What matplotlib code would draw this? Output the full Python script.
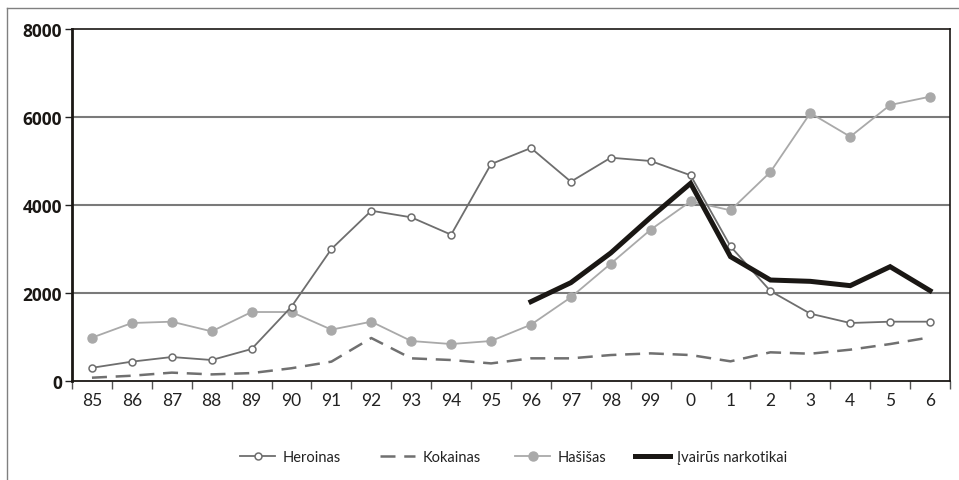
import matplotlib
matplotlib.use("Agg")
import matplotlib.pyplot as plt
from matplotlib.lines import Line2D
import numpy as np

plt.rcParams['font.family'] = ['Lato', 'DejaVu Sans']

# ---- data ----
YEARS = ['85', '86', '87', '88', '89', '90', '91', '92', '93', '94', '95',
         '96', '97', '98', '99', '0', '1', '2', '3', '4', '5', '6']
HEROINAS = [300, 440, 545, 477, 727, 1690, 3000, 3870, 3720, 3325, 4930,
            5295, 4530, 5075, 5000, 4675, 3060, 2045, 1530, 1318, 1348, 1348]
KOKAINAS = [75, 120, 190, 150, 180, 290, 440, 977, 515, 477, 400,
            515, 515, 590, 628, 590, 447, 652, 620, 712, 840, 992]
HASISAS = [985, 1318, 1348, 1128, 1568, 1568, 1167, 1348, 909, 840, 909,
           1280, 1902, 2667, 3440, 4083, 3879, 4750, 6090, 5553, 6273, 6462]
IVAIRUS_START = 11  # nuo 96 m.
IVAIRUS = [1803, 2235, 2910, 3720, 4492, 2826, 2295, 2265, 2167, 2598, 2053]

fig = plt.figure(figsize=(9.59, 4.81), dpi=100)
ax = fig.add_axes([72 / 959, 1 - 382 / 481, 878 / 959, 352 / 481])

x = np.arange(len(YEARS))

h1, = ax.plot(x, HEROINAS, color='#6e6e6e', linewidth=1.3, marker='o', markersize=5,
              markerfacecolor='white', markeredgecolor='#6e6e6e', markeredgewidth=1.1,
              label='Heroinas', zorder=4)
h2, = ax.plot(x, KOKAINAS, color='#707070', linewidth=1.8, linestyle=(0, (6, 3.5)),
              label='Kokainas', zorder=3)
h3, = ax.plot(x, HASISAS, color='#a9a9a9', linewidth=1.3, marker='o', markersize=6.5,
              markerfacecolor='#a9a9a9', markeredgecolor='#a9a9a9',
              label='Hašišas', zorder=3)
h4, = ax.plot(x[IVAIRUS_START:], IVAIRUS, color='#1a1714', linewidth=3.6,
              solid_joinstyle='miter', label='Įvairūs narkotikai', zorder=5)

ax.set_xlim(-0.5, len(YEARS) - 0.5)
ax.set_ylim(0, 8000)
ax.set_yticks([0, 2000, 4000, 6000, 8000])
ax.set_yticklabels(['0', '2000', '4000', '6000', '8000'], fontweight='bold',
                   fontsize=12.5, family=['Open Sans', 'DejaVu Sans'], color='#1a1714')
ax.tick_params(axis='y', length=5, width=1, color='#222222', pad=2)

# kategorijos: užrašai centre, brūkšneliai tarp jų
ax.set_xticks(x)
ax.set_xticklabels(YEARS, fontsize=12.5, color='#222222')
ax.tick_params(axis='x', which='major', length=0, pad=8)
ax.set_xticks(np.arange(-0.5, len(YEARS)), minor=True)
ax.tick_params(axis='x', which='minor', length=6, width=1, color='#555555')

for v in [2000, 4000, 6000]:
    ax.axhline(v, color='#7a7a7a', linewidth=1.5, zorder=1)

ax.spines['left'].set_linewidth(2)
ax.spines['bottom'].set_linewidth(1.3)
ax.spines['top'].set_linewidth(1.2)
ax.spines['right'].set_linewidth(1.2)
for s in ax.spines.values():
    s.set_color('#1a1714')

# legenda: kiekvienas įrašas atskirai, kaip originale
leg_x = [240, 380, 515, 635]
for h, lx in zip([h1, h2, h3, h4], leg_x):
    leg = fig.legend(handles=[h], loc='center left',
                     bbox_to_anchor=(lx / 959, 1 - 458 / 481), frameon=False,
                     fontsize=10.5, handlelength=2.4, handletextpad=0.5,
                     borderaxespad=0, borderpad=0)
    for t in leg.get_texts():
        t.set_color('#222222')

# rėmelis aplink paveikslą (viršus ir kairė)
fig.add_artist(Line2D([7 / 959, 958 / 959], [1 - 9 / 481, 1 - 9 / 481],
                      color='#808080', linewidth=1))
fig.add_artist(Line2D([7 / 959, 7 / 959], [1 - 9 / 481, 0],
                      color='#808080', linewidth=1))

fig.savefig('out.png', dpi=100)
